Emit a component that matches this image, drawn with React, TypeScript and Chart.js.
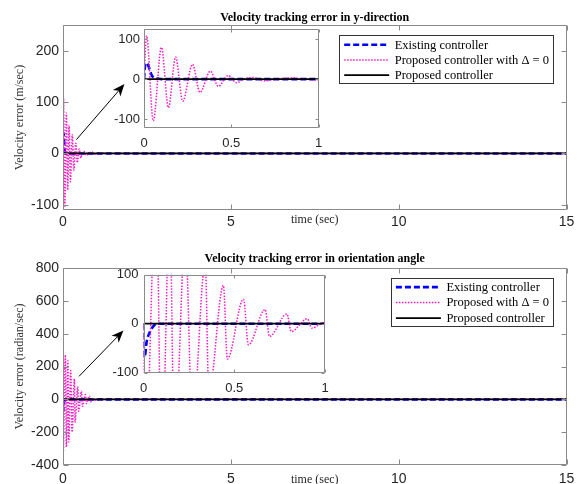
import React, { useEffect, useRef } from 'react';
import { Chart, registerables } from 'chart.js';

Chart.register(...registerables);

const SERIF = "'Liberation Serif', 'Times New Roman', serif";
const SANS = "'Liberation Sans', Arial, sans-serif";

// ---------------- Data: velocity tracking error in y-direction (m/sec) ----------------
const yExistingTime = [0, 0.008, 0.016, 0.034, 0.044, 0.053, 0.069, 0.085, 0.1, 15];
const yExistingErr = [0, 38, 40, 22, 10, 5, 3, 1, 0, 0];
const yDelta0Time = [0, 0.015, 0.053, 0.1, 0.14, 0.181, 0.222, 0.278, 0.321, 0.38, 0.426, 0.483, 0.531, 0.57, 0.625, 0.69, 0.76, 0.85, 0.92, 1.0, 1.15, 1.3, 15];
const yDelta0Err = [0, 108, -104, 79, -71, 55, -55, 37, -33, 20, -18, 9, -9, 0, 4, -4, 0, 3, 0, -2, 1, 0, 0];
const yProposedTime = [0, 15];
const yProposedErr = [0, 0];

// ---------------- Data: velocity tracking error in orientation angle (radian/sec) ----------------
const thExistingTime = [0, 0.003, 0.008, 0.017, 0.035, 0.055, 0.07, 0.09, 15];
const thExistingErr = [0, -68, -66, -38, -17, -5, -1, 0, 0];
const thDelta0Time = [0, 0.005, 0.07, 0.1, 0.145, 0.17, 0.23, 0.27, 0.34, 0.36, 0.44, 0.462, 0.551, 0.578, 0.67, 0.694, 0.79, 0.814, 0.903, 0.927, 1.0, 1.1, 1.3, 15];
const thDelta0Err = [0, -330, 270, -290, 235, -260, 175, -200, 125, -140, 78, -72, 50, -43, 29, -26, 20, -16, 10, -9, 3, -2, 0, 0];
const thProposedTime = [0, 15];
const thProposedErr = [0, 0];

// ---------------- Ticks ----------------
const mainXTicks = [0, 5, 10, 15];
const yMainTicks = [-100, 0, 100, 200];
const thMainTicks = [-400, -200, 0, 200, 400, 600, 800];
const insetXTicks = [0, 0.5, 1];
const insetYTicks = [-100, 0, 100];

// ---------------- Texts ----------------
const topTitle = 'Velocity tracking error in y-direction';
const bottomTitle = 'Velocity tracking error in orientation angle';
const topYLabel = 'Velocity error (m/sec)';
const bottomYLabel = 'Velocity error (radian/sec)';
const xLabel = 'time (sec)';
const topLegend = ['Existing controller', 'Proposed controller with \u0394 = 0', 'Proposed controller'];
const bottomLegend = ['Existing controller', 'Proposed with \u0394 = 0', 'Proposed controller'];

// ---------------- Styles ----------------
const BLUE = '#0000ff';
const PINK = '#ff1ac6';
const BLACK = '#000000';
const AXIS = '#8a8a8a';
const TICK_TEXT = '#262626';

function pts(t: number[], v: number[]) {
  return t.map((x, i) => ({ x, y: v[i] }));
}

function makeDatasets(labels: string[], ex: [number[], number[]], d0: [number[], number[]], pr: [number[], number[]]) {
  return [
    {
      label: labels[0], data: pts(ex[0], ex[1]), borderColor: BLUE, borderWidth: 2.6,
      borderDash: [6, 3], order: 2, cubicInterpolationMode: 'monotone',
    },
    {
      label: labels[1], data: pts(d0[0], d0[1]), borderColor: PINK, borderWidth: 1.5,
      borderDash: [1.5, 1.5], order: 1, cubicInterpolationMode: 'monotone',
    },
    {
      label: labels[2], data: pts(pr[0], pr[1]), borderColor: BLACK, borderWidth: 1.8,
      borderDash: [], order: 0,
    },
  ];
}

function boxPlugin(tickLen: number) {
  return {
    id: 'matlabBox',
    beforeDraw(chart: any) {
      const { ctx, chartArea: a } = chart;
      ctx.save();
      ctx.fillStyle = '#ffffff';
      ctx.fillRect(a.left, a.top, a.right - a.left, a.bottom - a.top);
      ctx.restore();
    },
    afterDatasetsDraw(chart: any) {
      const { ctx, chartArea: a, scales } = chart;
      const L = Math.round(a.left) + 0.5;
      const R = Math.round(a.right) - 0.5;
      const T = Math.round(a.top) + 0.5;
      const B = Math.round(a.bottom) - 0.5;
      ctx.save();
      ctx.strokeStyle = AXIS;
      ctx.lineWidth = 1;
      ctx.setLineDash([]);
      ctx.beginPath();
      ctx.rect(L, T, R - L, B - T);
      for (const tk of scales.x.ticks) {
        const px = Math.round(scales.x.getPixelForValue(tk.value)) + 0.5;
        ctx.moveTo(px, B); ctx.lineTo(px, B - tickLen);
        ctx.moveTo(px, T); ctx.lineTo(px, T + tickLen);
      }
      for (const tk of scales.y.ticks) {
        const py = Math.round(scales.y.getPixelForValue(tk.value)) + 0.5;
        ctx.moveTo(L, py); ctx.lineTo(L + tickLen, py);
        ctx.moveTo(R, py); ctx.lineTo(R - tickLen, py);
      }
      ctx.stroke();
      ctx.restore();
    },
  };
}

function legendPlugin(rightGap: number, topGap: number, firstRow: number, rowGap: number, height: number) {
  return {
    id: 'boxLegend',
    afterDraw(chart: any) {
      const { ctx, chartArea: a } = chart;
      const ds = chart.data.datasets;
      ctx.save();
      ctx.font = `12.5px ${SERIF}`;
      const textW = Math.max(...ds.map((d: any) => ctx.measureText(d.label).width));
      const padL = 5, sample = 45, gap = 5.5, padR = 4;
      const w = padL + sample + gap + textW + padR;
      const right = a.right - rightGap;
      const left = right - w;
      const top = a.top + topGap;
      ctx.fillStyle = '#ffffff';
      ctx.fillRect(left, top, w, height);
      ctx.strokeStyle = '#333333';
      ctx.lineWidth = 1;
      ctx.strokeRect(Math.round(left) + 0.5, Math.round(top) + 0.5, Math.round(w), Math.round(height));
      ds.forEach((d: any, i: number) => {
        const y = top + firstRow + i * rowGap;
        ctx.beginPath();
        ctx.setLineDash(d.borderDash || []);
        ctx.strokeStyle = d.borderColor;
        ctx.lineWidth = d.borderWidth;
        ctx.moveTo(left + padL, y);
        ctx.lineTo(left + padL + sample, y);
        ctx.stroke();
        ctx.setLineDash([]);
        ctx.fillStyle = '#000000';
        ctx.textBaseline = 'middle';
        ctx.textAlign = 'left';
        ctx.fillText(d.label, left + padL + sample + gap, y + 0.5);
      });
      ctx.restore();
    },
  };
}

function arrowPlugin(from: { x: number; y: number }, to: { x: number; y: number }) {
  return {
    id: 'zoomArrow',
    afterDraw(chart: any) {
      const { ctx, scales } = chart;
      const x0 = scales.x.getPixelForValue(from.x);
      const y0 = scales.y.getPixelForValue(from.y);
      const x1 = scales.x.getPixelForValue(to.x);
      const y1 = scales.y.getPixelForValue(to.y);
      const ang = Math.atan2(y1 - y0, x1 - x0);
      const c = Math.cos(ang), s = Math.sin(ang);
      const hl = 12, hw = 5;
      const bx = x1 - hl * c, by = y1 - hl * s;
      const nx = x1 - hl * 0.72 * c, ny = y1 - hl * 0.72 * s;
      ctx.save();
      ctx.strokeStyle = '#000000';
      ctx.lineWidth = 1;
      ctx.beginPath();
      ctx.moveTo(x0, y0);
      ctx.lineTo(nx, ny);
      ctx.stroke();
      ctx.beginPath();
      ctx.moveTo(x1, y1);
      ctx.lineTo(bx + hw * s, by - hw * c);
      ctx.lineTo(nx, ny);
      ctx.lineTo(bx - hw * s, by + hw * c);
      ctx.closePath();
      ctx.fillStyle = '#000000';
      ctx.fill();
      ctx.restore();
    },
  };
}

function textPlugin(id: string, text: string, y: number, font: string, color: string) {
  return {
    id,
    afterDraw(chart: any) {
      const { ctx, chartArea: a } = chart;
      ctx.save();
      ctx.font = font;
      ctx.fillStyle = color;
      ctx.textAlign = 'center';
      ctx.textBaseline = 'middle';
      ctx.fillText(text, (a.left + a.right) / 2, y);
      ctx.restore();
    },
  };
}

type Cfg = {
  datasets: any[];
  xMin: number; xMax: number; yMin: number; yMax: number;
  xTicks: number[]; yTicks: number[];
  yAxisW: number; xAxisH: number; padRight: number; padTop: number;
  tickSize: number; xTickPad: number; yTickPad: number;
  yTitle?: string;
  plugins: any[];
};

function buildConfig(c: Cfg): any {
  return {
    type: 'line',
    data: { datasets: c.datasets },
    options: {
      responsive: false,
      animation: false,
      events: [],
      layout: { padding: { left: 0, right: c.padRight, top: c.padTop, bottom: 0 }, autoPadding: false },
      elements: { point: { radius: 0 }, line: { borderCapStyle: 'butt', borderJoinStyle: 'round' } },
      plugins: {
        legend: { display: false },
        tooltip: { enabled: false },
        title: { display: false },
      },
      scales: {
        x: {
          type: 'linear', min: c.xMin, max: c.xMax,
          afterBuildTicks: (s: any) => { s.ticks = c.xTicks.map((v) => ({ value: v })); },
          afterFit: (s: any) => { s.height = c.xAxisH; s.paddingLeft = 0; s.paddingRight = 0; },
          grid: { display: false, drawTicks: false },
          border: { display: false },
          ticks: {
            font: { family: SANS, size: c.tickSize, lineHeight: 1.2 }, color: TICK_TEXT,
            padding: c.xTickPad, maxRotation: 0, autoSkip: false,
            callback: (v: any) => String(v),
          },
        },
        y: {
          type: 'linear', min: c.yMin, max: c.yMax,
          afterBuildTicks: (s: any) => { s.ticks = c.yTicks.map((v) => ({ value: v })); },
          afterFit: (s: any) => { s.width = c.yAxisW; s.paddingTop = 0; s.paddingBottom = 0; },
          grid: { display: false, drawTicks: false },
          border: { display: false },
          ticks: {
            font: { family: SANS, size: c.tickSize, lineHeight: 1.2 }, color: TICK_TEXT,
            padding: c.yTickPad, autoSkip: false,
            callback: (v: any) => String(v),
          },
          title: c.yTitle
            ? {
                display: true, text: c.yTitle, color: '#333333',
                font: { family: SERIF, size: 12, lineHeight: 1.2 },
                padding: { top: 12.8, bottom: 0 },
              }
            : { display: false },
        },
      },
    },
    plugins: c.plugins,
  };
}

function ChartCanvas(props: { make: () => any; left: number; top: number; width: number; height: number }) {
  const ref = useRef<HTMLCanvasElement>(null);
  useEffect(() => {
    const chart = new Chart(ref.current as HTMLCanvasElement, props.make());
    return () => chart.destroy();
  }, []);
  return (
    <canvas
      ref={ref}
      width={props.width}
      height={props.height}
      style={{ position: 'absolute', left: props.left, top: props.top, width: props.width, height: props.height }}
    />
  );
}

const TITLE_FONT = `bold 12px ${SERIF}`;
const XLABEL_FONT = `12px ${SERIF}`;

const topMain = () =>
  buildConfig({
    datasets: makeDatasets(topLegend, [yExistingTime, yExistingErr], [yDelta0Time, yDelta0Err], [yProposedTime, yProposedErr]),
    xMin: 0, xMax: 15, yMin: -110, yMax: 250, xTicks: mainXTicks, yTicks: yMainTicks,
    yAxisW: 63, xAxisH: 32, padRight: 14.5, padTop: 25,
    tickSize: 14, xTickPad: 3.4, yTickPad: 4,
    yTitle: topYLabel,
    plugins: [
      boxPlugin(5),
      legendPlugin(13.5, 10, 9.8, 15.2, 48),
      arrowPlugin({ x: 0.4, y: 27 }, { x: 1.83, y: 135 }),
      textPlugin('plotTitle', topTitle, 17.8, TITLE_FONT, '#000000'),
      textPlugin('xTitle', xLabel, 220, XLABEL_FONT, '#262626'),
    ],
  });

const bottomMain = () =>
  buildConfig({
    datasets: makeDatasets(bottomLegend, [thExistingTime, thExistingErr], [thDelta0Time, thDelta0Err], [thProposedTime, thProposedErr]),
    xMin: 0, xMax: 15, yMin: -400, yMax: 800, xTicks: mainXTicks, yTicks: thMainTicks,
    yAxisW: 63, xAxisH: 19, padRight: 14.5, padTop: 26,
    tickSize: 14, xTickPad: 5.6, yTickPad: 4,
    yTitle: bottomYLabel,
    plugins: [
      boxPlugin(5),
      legendPlugin(13.5, 10.3, 8.8, 15.5, 47.7),
      arrowPlugin({ x: 0.477, y: 140 }, { x: 1.8, y: 419 }),
      textPlugin('plotTitle', bottomTitle, 17, TITLE_FONT, '#000000'),
      textPlugin('xTitle', xLabel, 238, XLABEL_FONT, '#262626'),
    ],
  });

const topInset = () =>
  buildConfig({
    datasets: makeDatasets(topLegend, [yExistingTime, yExistingErr], [yDelta0Time, yDelta0Err], [yProposedTime, yProposedErr]),
    xMin: 0, xMax: 1, yMin: -121, yMax: 125, xTicks: insetXTicks, yTicks: insetYTicks,
    yAxisW: 44, xAxisH: 27.3, padRight: 11.5, padTop: 9,
    tickSize: 13, xTickPad: 7.8, yTickPad: 4,
    plugins: [boxPlugin(3)],
  });

const bottomInset = () =>
  buildConfig({
    datasets: makeDatasets(bottomLegend, [thExistingTime, thExistingErr], [thDelta0Time, thDelta0Err], [thProposedTime, thProposedErr]),
    xMin: 0, xMax: 1, yMin: -100, yMax: 100, xTicks: insetXTicks, yTicks: insetYTicks,
    yAxisW: 43.5, xAxisH: 27.3, padRight: 15, padTop: 9.7,
    tickSize: 13, xTickPad: 8.2, yTickPad: 5,
    plugins: [boxPlugin(3)],
  });

export default function App() {
  return (
    <div style={{ position: 'absolute', left: 0, top: 0, width: 581, height: 484, background: '#ffffff', overflow: 'hidden' }}>
      <ChartCanvas make={topMain} left={0} top={0} width={581} height={242} />
      <ChartCanvas make={bottomMain} left={0} top={242} width={581} height={242} />
      <ChartCanvas make={topInset} left={100} top={20} width={230} height={135} />
      <ChartCanvas make={bottomInset} left={100} top={265} width={240} height={135} />
    </div>
  );
}
